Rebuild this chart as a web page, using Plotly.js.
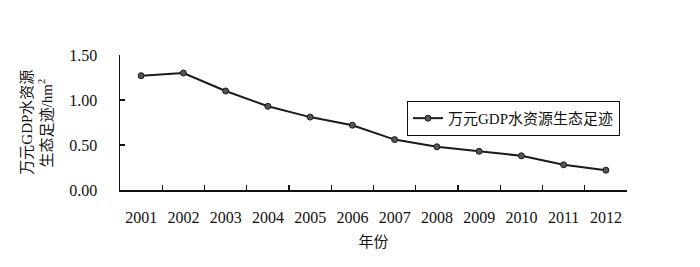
<!DOCTYPE html>
<html>
<head>
<meta charset="utf-8">
<script src="https://cdn.plot.ly/plotly-3.0.1.min.js"></script>
<style>html,body{margin:0;padding:0;background:#fff;}#chart{width:700px;height:267px;}</style>
</head>
<body>
<div id="chart"></div>
<script>
const years = ['2001','2002','2003','2004','2005','2006','2007','2008','2009','2010','2011','2012'];
const footprint = [1.27, 1.30, 1.10, 0.93, 0.81, 0.72, 0.56, 0.48, 0.43, 0.38, 0.28, 0.22];
const seriesName = '万元GDP水资源生态足迹';
const yTitleLine1 = '万元GDP水资源';
const yTitleLine2 = '生态足迹/hm<sup>2</sup>';
const xTitle = '年份';

const serif = '"Liberation Serif", "Noto Sans CJK SC", serif';
const trace = {
  x: years, y: footprint, name: seriesName, type: 'scatter', mode: 'lines+markers',
  line: {color: '#1a1a1a', width: 2},
  marker: {color: '#555', size: 6, line: {color: '#1a1a1a', width: 1}},
  showlegend: true
};
const layout = {
  width: 700, height: 267,
  margin: {l: 120, r: 73, t: 55, b: 77},
  paper_bgcolor: '#fff', plot_bgcolor: '#fff',
  font: {family: serif, color: '#111', size: 16},
  xaxis: {
    type: 'category', range: [-0.5, 11.5],
    showline: true, linecolor: '#111', linewidth: 1.5,
    ticks: 'inside', tickson: 'boundaries', ticklen: 5, tickcolor: '#111', tickwidth: 1.2,
    ticklabelstandoff: 12,
    showgrid: false, zeroline: false,
    tickfont: {family: serif, size: 16, color: '#111'},
    title: {text: xTitle, font: {family: serif, size: 15, color: '#111'}, standoff: 12}
  },
  yaxis: {
    range: [0, 1.5], dtick: 0.5, tickformat: '.2f',
    showline: true, linecolor: '#111', linewidth: 1.5,
    ticks: 'inside', ticklen: 5, tickcolor: '#111', tickwidth: 1.2,
    ticklabelstandoff: 18,
    showgrid: false, zeroline: false,
    tickfont: {family: serif, size: 16, color: '#111'}
  },
  legend: {
    x: 0.566, y: 0.66, xanchor: 'left', yanchor: 'top',
    bordercolor: '#111', borderwidth: 1, bgcolor: '#fff',
    font: {family: serif, size: 15, color: '#111'},
    itemwidth: 30, tracegroupgap: 0
  },
  annotations: [
    {text: yTitleLine1, xref: 'paper', yref: 'paper', x: -0.185, y: 0.5, xanchor: 'center', yanchor: 'middle', textangle: -90, showarrow: false, font: {family: serif, size: 15, color: '#111'}},
    {text: yTitleLine2, xref: 'paper', yref: 'paper', x: -0.148, y: 0.5, xanchor: 'center', yanchor: 'middle', textangle: -90, showarrow: false, font: {family: serif, size: 15, color: '#111'}}
  ]
};
Plotly.newPlot('chart', [trace], layout, {staticPlot: true});
</script>
</body>
</html>
